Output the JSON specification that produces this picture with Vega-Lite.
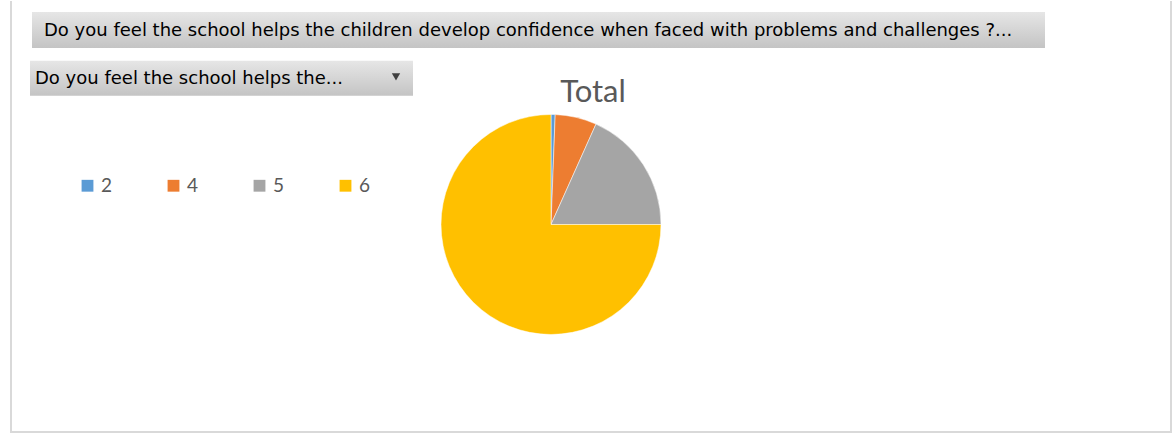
{
  "$schema": "https://vega.github.io/schema/vega-lite/v6.json",
  "width": 1176,
  "height": 435,
  "autosize": {"type": "fit", "contains": "padding"},
  "padding": 0,
  "background": "white",
  "config": {"view": {"stroke": null}},
  "datasets": {
    "answers": [
      {"answer": "2", "count": 1},
      {"answer": "4", "count": 10},
      {"answer": "5", "count": 30},
      {"answer": "6", "count": 123}
    ],
    "one": [{}]
  },
  "layer": [
    {
      "data": {"name": "one"},
      "mark": {"type": "rule", "stroke": "#d9d9d9", "strokeWidth": 2},
      "encoding": {
        "x": {"datum": 11, "type": "quantitative", "scale": {"domain": [0, 1176], "nice": false}, "axis": null},
        "y": {"datum": 0, "type": "quantitative", "scale": {"domain": [435, 0], "nice": false}, "axis": null},
        "y2": {"datum": 433}
      }
    },
    {
      "data": {"name": "one"},
      "mark": {"type": "rule", "stroke": "#d9d9d9", "strokeWidth": 2},
      "encoding": {
        "x": {"datum": 1171, "type": "quantitative"},
        "y": {"datum": 0, "type": "quantitative"},
        "y2": {"datum": 433}
      }
    },
    {
      "data": {"name": "one"},
      "mark": {"type": "rule", "stroke": "#d9d9d9", "strokeWidth": 2},
      "encoding": {
        "x": {"datum": 10, "type": "quantitative"},
        "x2": {"datum": 1172},
        "y": {"datum": 432, "type": "quantitative"}
      }
    },
    {
      "data": {"name": "one"},
      "mark": {"type": "rect", "fill": {"gradient": "linear", "x1": 0, "y1": 0, "x2": 0, "y2": 1, "stops": [{"offset": 0, "color": "#e6e6e6"}, {"offset": 1, "color": "#c4c4c4"}]}},
      "encoding": {
        "x": {"datum": 32, "type": "quantitative"},
        "x2": {"datum": 1045},
        "y": {"datum": 11, "type": "quantitative"},
        "y2": {"datum": 47}
      }
    },
    {
      "data": {"name": "one"},
      "mark": {"type": "text", "text": "Do you feel the school helps the children develop confidence when faced with problems and challenges ?...", "align": "left", "baseline": "middle", "font": "DejaVu Sans", "fontSize": 18, "color": "#000000"},
      "encoding": {
        "x": {"datum": 44, "type": "quantitative"},
        "y": {"datum": 30, "type": "quantitative"}
      }
    },
    {
      "data": {"name": "one"},
      "mark": {"type": "rect", "fill": {"gradient": "linear", "x1": 0, "y1": 0, "x2": 0, "y2": 1, "stops": [{"offset": 0, "color": "#e6e6e6"}, {"offset": 1, "color": "#c4c4c4"}]}},
      "encoding": {
        "x": {"datum": 30, "type": "quantitative"},
        "x2": {"datum": 413},
        "y": {"datum": 60, "type": "quantitative"},
        "y2": {"datum": 95}
      }
    },
    {
      "data": {"name": "one"},
      "mark": {"type": "text", "text": "Do you feel the school helps the...", "align": "left", "baseline": "middle", "font": "DejaVu Sans", "fontSize": 18, "color": "#000000"},
      "encoding": {
        "x": {"datum": 35, "type": "quantitative"},
        "y": {"datum": 78, "type": "quantitative"}
      }
    },
    {
      "data": {"name": "one"},
      "mark": {"type": "point", "shape": "triangle-down", "filled": true, "size": 70, "color": "#404040", "opacity": 1},
      "encoding": {
        "x": {"datum": 396, "type": "quantitative"},
        "y": {"datum": 76, "type": "quantitative"}
      }
    },
    {
      "data": {"name": "one"},
      "mark": {"type": "text", "text": "Total", "align": "center", "baseline": "middle", "font": "Lato", "fontSize": 31, "color": "#595959"},
      "encoding": {
        "x": {"datum": 593, "type": "quantitative"},
        "y": {"datum": 92, "type": "quantitative"}
      }
    },
    {
      "data": {"name": "answers"},
      "mark": {"type": "arc", "outerRadius": 110, "stroke": "white", "strokeWidth": 0.5},
      "encoding": {
        "theta": {"field": "count", "type": "quantitative", "stack": true},
        "color": {
          "field": "answer",
          "type": "nominal",
          "sort": ["2", "4", "5", "6"],
          "scale": {"domain": ["2", "4", "5", "6"], "range": ["#5B9BD5", "#ED7D31", "#A5A5A5", "#FFC000"]},
          "legend": {
            "title": null,
            "orient": "none",
            "legendX": 78,
            "legendY": 175,
            "direction": "horizontal",
            "columns": 4,
            "symbolType": "square",
            "symbolSize": 140,
            "symbolStrokeWidth": 0,
            "labelFont": "Lato",
            "labelFontSize": 19,
            "labelColor": "#595959",
            "labelOffset": 4,
            "columnPadding": 51,
            "symbolOffset": 0
          }
        },
        "order": {"field": "answer", "type": "ordinal"},
        "x": {"datum": 551, "type": "quantitative"},
        "y": {"datum": 224, "type": "quantitative"}
      }
    }
  ]
}
